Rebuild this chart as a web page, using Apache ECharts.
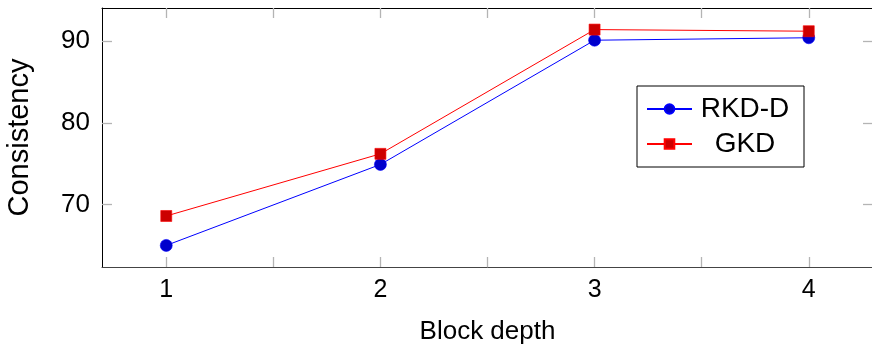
<!DOCTYPE html>
<html>
<head>
<meta charset="utf-8">
<script src="https://cdn.jsdelivr.net/npm/echarts@6/dist/echarts.min.js"></script>
<style>
html,body{margin:0;padding:0;background:#fff;}
#chart{width:872px;height:344px;}
</style>
</head>
<body>
<div id="chart"></div>
<script>
const categories = [1, 2, 3, 4];
const rkdD = [65.0, 74.9, 90.1, 90.4];
const gkd = [68.6, 76.2, 91.4, 91.2];
const xTicks = [1, 1.5, 2, 2.5, 3, 3.5, 4];
const xLabels = [1, 2, 3, 4];
const yTicks = [70, 80, 90];
const seriesNames = ['RKD-D', 'GKD'];

const font = 'Liberation Sans, Arial, sans-serif';
const chart = echarts.init(document.getElementById('chart'), null, {renderer: 'canvas'});
const tickStyle = {show: true, inside: true, length: 10, lineStyle: {color: '#b4b4b4', width: 1.3}};

chart.setOption({
  animation: false,
  backgroundColor: '#fff',
  grid: {left: 102, right: -1, top: 8, bottom: 77, containLabel: false, outerBoundsMode: 'none'},
  legend: {
    orient: 'vertical',
    left: 637, top: 86,
    borderColor: '#000', borderWidth: 1, borderRadius: 0,
    padding: [9, 11, 9, 9],
    itemWidth: 45, itemHeight: 12, itemGap: 7,
    formatter: '{a|{name}}',
    textStyle: {
      fontFamily: font, fontSize: 28, color: '#000', lineHeight: 28,
      rich: {a: {fontFamily: font, fontSize: 28, color: '#000', lineHeight: 28, width: 96, align: 'center'}}
    },
    data: seriesNames
  },
  xAxis: [{
    type: 'value', min: 0.7, max: 4.3, position: 'bottom',
    axisLine: {show: true, onZero: false, lineStyle: {color: '#444', width: 1}},
    axisTick: Object.assign({customValues: xTicks}, tickStyle),
    axisLabel: {customValues: xLabels, fontFamily: font, fontSize: 25, color: '#000', margin: 11},
    splitLine: {show: false},
    name: 'Block depth', nameLocation: 'middle', nameGap: 52,
    nameTextStyle: {fontFamily: font, fontSize: 26, color: '#000'}
  }, {
    type: 'value', min: 0.7, max: 4.3, position: 'top',
    axisLine: {show: true, onZero: false, lineStyle: {color: '#000', width: 1}},
    axisTick: Object.assign({customValues: xTicks}, tickStyle),
    axisLabel: {show: false}, splitLine: {show: false}
  }],
  yAxis: [{
    type: 'value', min: 62.36, max: 94.04, position: 'left',
    axisLine: {show: true, onZero: false, lineStyle: {color: '#000', width: 1}},
    axisTick: Object.assign({customValues: yTicks}, tickStyle),
    axisLabel: {customValues: yTicks, fontFamily: font, fontSize: 26, color: '#000', margin: 12},
    splitLine: {show: false},
    name: 'Consistency', nameLocation: 'middle', nameGap: 68, nameRotate: 90,
    nameTextStyle: {fontFamily: font, fontSize: 29, color: '#000'}
  }, {
    type: 'value', min: 62.36, max: 94.04, position: 'right',
    axisLine: {show: true, onZero: false, lineStyle: {color: '#000', width: 1}},
    axisTick: Object.assign({customValues: yTicks}, tickStyle),
    axisLabel: {show: false}, splitLine: {show: false}
  }],
  series: [{
    name: seriesNames[0], type: 'line',
    data: categories.map((c, i) => [c, rkdD[i]]),
    symbol: 'circle', symbolSize: 12,
    lineStyle: {color: '#0000ff', width: 1},
    itemStyle: {color: '#0000cc', borderColor: '#0000ff', borderWidth: 0.6},
    z: 3
  }, {
    name: seriesNames[1], type: 'line',
    data: categories.map((c, i) => [c, gkd[i]]),
    symbol: 'rect', symbolSize: 11,
    lineStyle: {color: '#ff0000', width: 1},
    itemStyle: {color: '#cc0000', borderColor: '#ff0000', borderWidth: 0.6},
    z: 4
  }]
});
</script>
</body>
</html>
